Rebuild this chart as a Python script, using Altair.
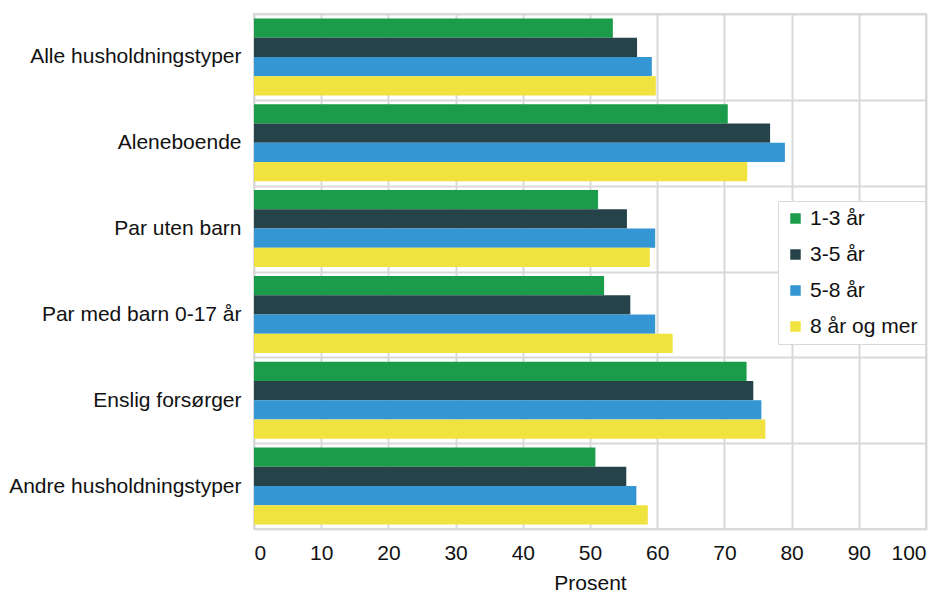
import altair as alt
import pandas as pd

categories = ["Alle husholdningstyper", "Aleneboende", "Par uten barn",
              "Par med barn 0-17 år", "Enslig forsørger", "Andre husholdningstyper"]
series = ["1-3 år", "3-5 år", "5-8 år", "8 år og mer"]
colors = ["#1b9c4a", "#27434a", "#3496d3", "#f0e33f"]

v_1_3 = [53.4, 70.5, 51.2, 52.1, 73.3, 50.8]
v_3_5 = [57.0, 76.8, 55.5, 56.0, 74.3, 55.4]
v_5_8 = [59.2, 79.0, 59.7, 59.7, 75.5, 56.9]
v_8 = [59.8, 73.4, 58.9, 62.3, 76.1, 58.6]

rows = []
for s, vals in zip(series, [v_1_3, v_3_5, v_5_8, v_8]):
    for c, v in zip(categories, vals):
        rows.append({"kategori": c, "gruppe": s, "prosent": v})
df = pd.DataFrame(rows)

FONT = "Liberation Sans"
GRID = "#d9d9d9"
FS = 21

chart = alt.Chart(df).mark_bar().encode(
    y=alt.Y("kategori:N", sort=categories, title=None,
            scale=alt.Scale(paddingInner=0, paddingOuter=0),
            axis=alt.Axis(grid=True, gridColor=GRID, gridWidth=2, tickBand="extent",
                          domain=False, ticks=False, labelFontSize=FS, labelFont=FONT,
                          labelColor="#111", labelPadding=13, labelLimit=400)),
    yOffset=alt.YOffset("gruppe:N", sort=series, scale=alt.Scale(paddingOuter=0.23, paddingInner=0)),
    x=alt.X("prosent:Q", title="Prosent",
            scale=alt.Scale(domain=[0, 100], nice=False),
            axis=alt.Axis(values=list(range(0, 101, 10)), grid=True, gridColor=GRID, gridWidth=2,
                          domain=False, ticks=False, labelFontSize=FS, labelFont=FONT,
                          labelColor="#111", labelPadding=13, titleFontSize=FS, titleFont=FONT,
                          titleFontWeight="normal", titleColor="#111", titlePadding=9)),
    color=alt.Color("gruppe:N", sort=series,
                    scale=alt.Scale(domain=series, range=colors),
                    legend=alt.Legend(title=None, orient="none", legendX=524, legendY=187,
                                      symbolType="square", symbolSize=110, symbolStrokeWidth=0,
                                      labelFontSize=FS, labelFont=FONT, labelColor="#111",
                                      rowPadding=14, padding=7, strokeColor=GRID,
                                      fillColor="white", labelOffset=4)),
).properties(
    width=672, height=515,
    padding={"left": 0, "top": -5, "right": 10, "bottom": 0},
).configure_view(stroke=GRID, strokeWidth=2)

chart.save("out.html", embed_options={"renderer": "svg", "actions": False})
